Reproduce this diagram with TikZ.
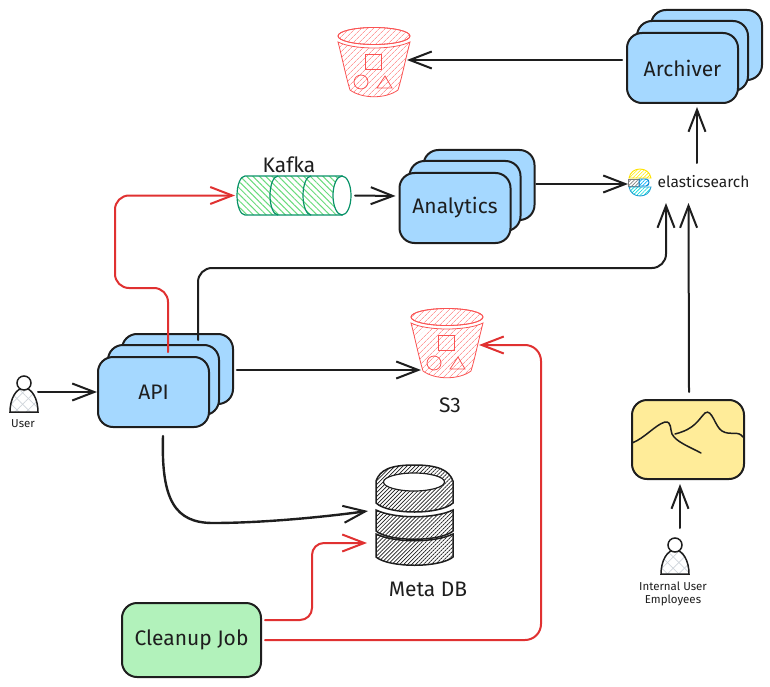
\documentclass[tikz,border=0pt]{standalone}
\usepackage{fontspec}
\setmainfont{Fira Sans}
\usetikzlibrary{arrows.meta,patterns.meta}
\definecolor{ink}{HTML}{1E1E1E}
\definecolor{wirered}{HTML}{E03131}
\definecolor{bucketred}{HTML}{FA5252}
\definecolor{bucketfill}{HTML}{FF9C9C}
\definecolor{boxblue}{HTML}{A5D8FF}
\definecolor{boxgreen}{HTML}{B2F2BB}
\definecolor{boxyellow}{HTML}{FFEC99}
\definecolor{kafkaline}{HTML}{099268}
\definecolor{kafkafill}{HTML}{69DB7C}
\definecolor{crossfill}{HTML}{CED4DA}
\tikzset{
  stackbox/.style={draw=ink,line width=2pt,fill=boxblue,rounded corners=15pt,
    minimum width=111pt,minimum height=70pt,inner sep=0pt,outer sep=0pt,font=\fontsize{21}{24}\selectfont,text=ink},
  spot/.style={inner sep=0pt,outer sep=0pt,minimum width=#1},
  wire/.style={draw=ink,line width=2pt,line cap=round,-{Straight Barb[length=22pt,width=17pt,line width=2pt]}},
  redwire/.style={wire,draw=wirered},
  caption/.style={text=ink,inner sep=0pt,font=\fontsize{21}{24}\selectfont},
  small/.style={text=ink,inner sep=0pt,align=center,font=\fontsize{11.5}{13}\selectfont},
  bucket/.pic={
    \path[draw=bucketred,line width=.8pt,pattern={Lines[angle=45,distance=4pt,line width=.8pt]},pattern color=bucketfill]
      (-36,-20) .. controls (-32,-5) and (-28,15) .. (-24,28) .. controls (-12,37) and (12,37) .. (24,28)
      .. controls (28,15) and (32,-5) .. (36,-20) .. controls (20,-12) and (-20,-12) .. (-36,-20) -- cycle;
    \path[draw=bucketred,line width=.8pt,fill=white] (0,-26) ellipse[x radius=36pt,y radius=8.5pt];
    \path[draw=bucketred,line width=.8pt,pattern={Lines[angle=45,distance=4pt,line width=.8pt]},pattern color=bucketfill]
      (0,-26) ellipse[x radius=36pt,y radius=8.5pt];
    \draw[bucketred,line width=.8pt] (-9,-8) rectangle (7,7);
    \draw[bucketred,line width=.8pt] (-13,20) circle[radius=7pt];
    \draw[bucketred,line width=.8pt] (3,26) -- (18,26) -- (11,14) -- cycle;
  },
  person/.pic={
    \path[pattern={Lines[angle=45,distance=8pt,line width=.7pt]},pattern color=crossfill]
      (-14,15) .. controls (-14,2) and (-8,-9) .. (0,-9) .. controls (8,-9) and (14,2) .. (14,15) -- cycle;
    \path[draw=ink,line width=1.5pt,pattern={Lines[angle=-45,distance=8pt,line width=.7pt]},pattern color=crossfill]
      (-14,15) .. controls (-14,2) and (-8,-9) .. (0,-9) .. controls (8,-9) and (14,2) .. (14,15) -- cycle;
    \draw[ink,line width=1.5pt,fill=white] (0,-14) circle[radius=7pt];
  },
}
\begin{document}
\begin{tikzpicture}[x=1pt,y=-1pt]
\useasboundingbox (0,0) rectangle (770,687);

\foreach \dx/\dy/\tag in {24/-23/c,10/-12/b}{% the two boxes behind each front box
    \node[stackbox] (archiver\tag) at (682.5+\dx,68+\dy) {};
    \node[stackbox] (analytics\tag) at (455+\dx,208+\dy) {};
    \node[stackbox] (api\tag) at (153.5+\dx,392+\dy) {};}
\node[stackbox] (archiver) at (682.5,68) {Archiver};
\node[stackbox] (analytics) at (455,208) {Analytics};
\node[stackbox] (api) at (153.5,392) {API};
\node[stackbox,fill=boxgreen,minimum width=139pt,minimum height=74pt] (cleanup) at (191.5,640) {Cleanup Job};
\node[stackbox,fill=boxyellow,minimum width=112pt,minimum height=79pt] (dash) at (688,439.5) {};

% mountains on the dashboard
\draw[ink,line width=1.5pt,line cap=round] (632,443) .. controls (645,438) and (655,425) .. (665,422)
    .. controls (672,421) and (670,430) .. (672,434) .. controls (676,442) and (690,447) .. (701,453);
\draw[ink,line width=1.5pt,line cap=round] (675,434) .. controls (695,429) and (698,420) .. (705,413)
    .. controls (712,408) and (715,427) .. (722,431) .. controls (730,436) and (738,430) .. (743,437);

% buckets
\pic at (374,62) {bucket};
\pic at (447,343) {bucket};
\node[spot=72pt,minimum height=70pt] (glacier) at (374,62) {};
\node[spot=72pt,minimum height=70pt] (s3) at (447,343) {};
\node[caption] (s3label) at (450,405) {S3};

% kafka
\path[draw=kafkaline,line width=1.2pt,pattern={Lines[angle=-45,distance=4.5pt,line width=1pt]},pattern color=kafkafill]
    (342,176) -- (245,176) arc[start angle=90,end angle=270,x radius=8pt,y radius=19.5pt] -- (342,215) -- cycle;
\foreach \x in {278,311}{
    \draw[kafkaline,line width=1.2pt] (\x,176) arc[start angle=90,end angle=270,x radius=8pt,y radius=19.5pt];}
\draw[kafkaline,line width=1.2pt,fill=white] (342,195.5) ellipse[x radius=9pt,y radius=19.5pt];
\node[spot=114pt,minimum height=39pt] (kafka) at (294,195.5) {};
\node[caption] (kafkalabel) at (289,165) {Kafka};

% elasticsearch logo
\path[draw=yellow!85!orange,line width=.9pt,pattern={Lines[angle=45,distance=2.5pt,line width=.6pt]},pattern color=yellow!85!orange]
    (629,178) .. controls (631,166) and (649,166) .. (651,178) -- cycle;
\path[draw=gray,line width=.9pt,pattern={Lines[angle=45,distance=2.5pt,line width=.7pt]},pattern color=gray]
    (628,179) rectangle (639,186);
\path[draw=cyan!70!blue,line width=.9pt,pattern={Lines[angle=45,distance=2.5pt,line width=.6pt]},pattern color=cyan!70!blue]
    (639,179) -- (646,179) .. controls (650,179) and (650,186) .. (646,186) -- (639,186) -- cycle;
\path[draw=cyan!70!teal,line width=.9pt,pattern={Lines[angle=45,distance=2.5pt,line width=.6pt]},pattern color=cyan!70!teal]
    (629,187) .. controls (631,199) and (649,199) .. (651,187) -- cycle;
\node[spot=123pt,minimum height=25pt] (elastic) at (689.5,182.5) {};
\node[small,font=\fontsize{15.5}{18}\selectfont] (estext) at (703.5,181.5) {elasticsearch};

% meta db
\foreach \top/\bot in {507/531,531/557}{
    \path[draw=ink,line width=1.5pt,pattern={Lines[angle=45,distance=2.8pt,line width=.7pt]},pattern color=ink]
        (376,\top+3) .. controls (395,\top+12) and (434,\top+12) .. (453,\top+3) -- (453,\bot)
        .. controls (440,\bot+11) and (389,\bot+11) .. (376,\bot) -- cycle;}
\path[draw=ink,line width=1.5pt,pattern={Lines[angle=45,distance=2.8pt,line width=.7pt]},pattern color=ink]
    (376,481) .. controls (380,470) and (390,465) .. (414,465) .. controls (438,465) and (449,470) .. (453,481)
    -- (453,503) .. controls (440,515) and (389,515) .. (376,503) -- cycle;
\draw[ink,line width=1.2pt,fill=white] (414,482) ellipse[x radius=30.5pt,y radius=9pt];
\node[spot=77pt,minimum height=102pt] (metadb) at (414.5,515) {};
\node[caption] (metalabel) at (428,589) {Meta DB};

% people
\pic at (24,397) {person};
\pic at (675,559) {person};
\node[spot=30pt,minimum height=36pt] (user) at (24,397) {};
\node[spot=30pt,minimum height=37pt] (staff) at (675,556) {};
\node[small] (userlabel) at (23,424) {User};
\node[small] (stafflabel) at (673,594) {Internal User\\Employees};

% connectors
\draw[wire] ([xshift=-5pt,yshift=8pt]archiver.west) -- ([xshift=-3pt,yshift=2pt]glacier.east);
\draw[wire] ([xshift=7.5pt,yshift=7pt]elastic.north) -- ([xshift=14.5pt,yshift=-4pt]archiver.south);
\draw[wire,line width=2.6pt] ([xshift=26pt,yshift=24pt]analytics.east) -- ([yshift=-1.5pt]elastic.west);
\draw[wire] ([xshift=4pt]kafka.east) -- ([xshift=-4pt,yshift=12pt]analytics.west);
\draw[redwire,rounded corners=14pt] ([xshift=14.5pt,yshift=5pt]api.north) |- ++(-53,-64) |- ([xshift=-2pt]kafka.west);
\draw[wire,rounded corners=14pt] ([xshift=44.5pt,yshift=17pt]api.north) |- ++(468,-72) -- ([xshift=-23.5pt,yshift=-8pt]elastic.south);
\draw[wire] ([xshift=1pt,yshift=8pt]dash.north) -- ([xshift=-1pt,yshift=-8pt]elastic.south);
\draw[wire] ([xshift=5pt,yshift=9.5pt]staff.north) -- ([xshift=-8pt,yshift=-5pt]dash.south);
\draw[wire] ([xshift=-1pt,yshift=5pt]user.east) -- ([xshift=-1pt]api.west);
\draw[wire,line width=2.6pt] ([xshift=28pt,yshift=22pt]api.east) -- ([xshift=10pt,yshift=-27pt]s3.west);
\draw[wire,line width=2.4pt] ([xshift=9.5pt,yshift=-9pt]api.south) .. controls +(-2,64) and +(-38,0) .. ++(50,87)
    .. controls +(40,0) and +(-60,8) .. ([xshift=-8pt,yshift=4pt]metadb.west);
\draw[redwire,rounded corners=12pt] ([xshift=4pt,yshift=20pt]cleanup.east) -| ++(47,-77) -- ([xshift=-9pt,yshift=-28pt]metadb.west);
\draw[redwire,rounded corners=16pt] ([xshift=4pt]cleanup.east) -| ++(276,-295) -- ([xshift=-4pt,yshift=-2pt]s3.east);
\end{tikzpicture}
\end{document}
